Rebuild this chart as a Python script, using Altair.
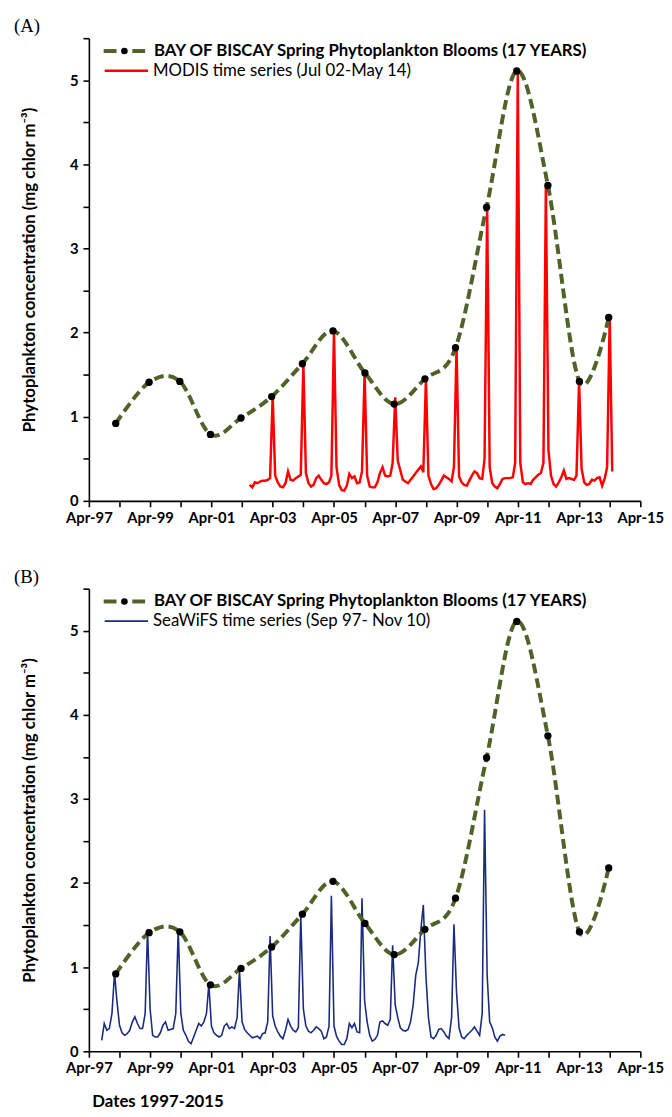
import altair as alt
import pandas as pd

FONT = "Lato"
GREEN = "#4F6228"
RED = "#FF0000"
NAVY = "#1A2B80"

# Spring bloom maxima (17 years)
bloom_dates = ["1998/02/15", "1999/03/20", "2000/03/20", "2001/03/20", "2002/03/20",
               "2003/03/20", "2004/03/20", "2005/03/20", "2006/04/05", "2007/03/20",
               "2008/03/20", "2009/03/20", "2010/03/25", "2011/03/20", "2012/03/25",
               "2013/04/05", "2014/03/20"]
bloom_values = [0.92, 1.41, 1.42, 0.79, 0.985, 1.24, 1.63, 2.02, 1.52, 1.15,
                1.45, 1.82, 3.49, 5.11, 3.75, 1.42, 2.18]

# MODIS monthly series, Jul 2002 - May 2014
modis_start = (2002, 7)
modis_values = [
    0.19, 0.16, 0.22, 0.21, 0.23, 0.24,                                # 2002
    0.24, 0.25, 0.27, 1.24, 0.30, 0.22, 0.17, 0.16, 0.21, 0.35, 0.25, 0.24,  # 2003
    0.27, 0.29, 0.31, 1.63, 0.33, 0.21, 0.17, 0.19, 0.27, 0.30, 0.25, 0.21,  # 2004
    0.20, 0.22, 0.30, 2.02, 0.40, 0.19, 0.13, 0.12, 0.18, 0.32, 0.27, 0.29,  # 2005
    0.21, 0.22, 0.35, 1.52, 0.30, 0.17, 0.16, 0.16, 0.22, 0.33, 0.40, 0.30,  # 2006
    0.29, 0.30, 0.45, 1.23, 0.48, 0.36, 0.25, 0.23, 0.21, 0.25, 0.29, 0.33,  # 2007
    0.37, 0.41, 0.34, 1.45, 0.30, 0.20, 0.14, 0.15, 0.19, 0.24, 0.30, 0.28,  # 2008
    0.26, 0.23, 0.40, 1.82, 0.29, 0.22, 0.19, 0.18, 0.24, 0.30, 0.35, 0.33,  # 2009
    0.27, 0.26, 0.50, 3.50, 0.40, 0.21, 0.17, 0.15, 0.20, 0.26, 0.27, 0.27,  # 2010
    0.27, 0.28, 0.45, 5.11, 0.45, 0.22, 0.20, 0.21, 0.20, 0.25, 0.28, 0.31,  # 2011
    0.33, 0.45, 3.75, 0.60, 0.30, 0.20, 0.17, 0.22, 0.28, 0.36, 0.26, 0.27,  # 2012
    0.26, 0.25, 0.30, 1.42, 0.38, 0.22, 0.19, 0.20, 0.25, 0.24, 0.27, 0.28,  # 2013
    0.18, 0.27, 0.40, 2.18, 0.35,                                      # 2014
]

# SeaWiFS monthly series, Sep 1997 - Nov 2010
seawifs_start = (1997, 9)
seawifs_values = [
    0.13, 0.33, 0.25, 0.27,                                            # 1997
    0.45, 0.93, 0.60, 0.31, 0.22, 0.19, 0.21, 0.25, 0.35, 0.41, 0.33, 0.27,  # 1998
    0.27, 0.45, 1.45, 0.50, 0.19, 0.17, 0.17, 0.22, 0.31, 0.35, 0.25, 0.26,  # 1999
    0.27, 0.45, 1.45, 0.45, 0.25, 0.19, 0.12, 0.09, 0.17, 0.25, 0.33, 0.30,  # 2000
    0.35, 0.45, 0.80, 0.30, 0.22, 0.19, 0.17, 0.19, 0.30, 0.33, 0.27, 0.29,  # 2001
    0.27, 0.40, 0.97, 0.35, 0.26, 0.22, 0.19, 0.16, 0.17, 0.18, 0.15, 0.21,  # 2002
    0.22, 0.35, 1.37, 0.42, 0.30, 0.23, 0.18, 0.15, 0.25, 0.38, 0.30, 0.25,  # 2003
    0.23, 0.28, 1.62, 0.50, 0.30, 0.24, 0.22, 0.25, 0.29, 0.27, 0.24, 0.15,  # 2004
    0.17, 0.30, 1.85, 0.30, 0.18, 0.12, 0.08, 0.08, 0.15, 0.33, 0.28, 0.33,  # 2005
    0.23, 0.22, 1.82, 0.60, 0.35, 0.19, 0.12, 0.14, 0.19, 0.35, 0.36, 0.33,  # 2006
    0.31, 0.38, 1.26, 0.55, 0.40, 0.28, 0.25, 0.24, 0.26, 0.35, 0.55, 0.90,  # 2007
    1.05, 1.45, 1.74, 0.90, 0.40, 0.17, 0.15, 0.19, 0.26, 0.27, 0.23, 0.18,  # 2008
    0.15, 0.40, 1.51, 0.70, 0.28, 0.17, 0.15, 0.19, 0.22, 0.25, 0.29, 0.24,  # 2009
    0.19, 0.45, 2.87, 0.90, 0.35, 0.28, 0.17, 0.12, 0.18, 0.20, 0.19,        # 2010
]

y_ticks = [0, 0.5, 1, 1.5, 2, 2.5, 3, 3.5, 4, 4.5, 5, 5.5]
x_tick_years = list(range(1997, 2016))

legend_bloom = "BAY OF BISCAY Spring Phytoplankton Blooms  (17 YEARS)"
legend_modis = "MODIS time series (Jul 02-May 14)"
legend_seawifs = "SeaWiFS time series (Sep 97- Nov 10)"
y_title = "Phytoplankton concentration (mg  chlor m\u207b\u00b3)"
x_title_b = "Dates 1997-2015"


def monthly_dates(start, n):
    y, m = start
    out = []
    for i in range(n):
        k = m - 1 + i
        out.append(f"{y + k // 12}/{k % 12 + 1:02d}/01")
    return out


bloom_df = pd.DataFrame({"date": bloom_dates, "value": bloom_values})
modis_df = pd.DataFrame({"date": monthly_dates(modis_start, len(modis_values)), "value": modis_values})
seawifs_df = pd.DataFrame({"date": monthly_dates(seawifs_start, len(seawifs_values)), "value": seawifs_values})
one = pd.DataFrame({"k": [0]})

W, H = 559, 469

x_scale = alt.Scale(domain=[alt.DateTime(year=1997, month=4, date=1),
                            alt.DateTime(year=2015, month=4, date=1)])
y_scale = alt.Scale(domain=[0, 5.5], nice=False)


def make_x(title):
    axis = alt.Axis(
        values=[alt.DateTime(year=yy, month=4, date=1) for yy in x_tick_years],
        labelExpr="(year(datum.value) - 1997) % 2 == 0 ? timeFormat(datum.value, '%b-%y') : ''",
        labelFont=FONT, labelFontSize=15, labelFontWeight="bold", labelColor="black",
        labelFlush=False, labelOverlap=False, labelPadding=4,
        domainColor="black", domainWidth=1.6, tickColor="black", tickWidth=1.6, tickSize=6,
        grid=False,
        titleFont=FONT, titleFontSize=17, titleFontWeight="bold", titleColor="black",
        titleAlign="left", titleBaseline="middle", titleX=3, titleY=51,
    )
    return alt.X("date:T", scale=x_scale, axis=axis, title=title if title else "")


y_enc = alt.Y(
    "value:Q", scale=y_scale, title=y_title,
    axis=alt.Axis(
        values=y_ticks,
        labelExpr="datum.value % 1 == 0 ? format(datum.value, 'd') : ''",
        labelFont=FONT, labelFontSize=15, labelFontWeight="bold", labelColor="black",
        labelPadding=5, labelOverlap=False, labelFlush=False,
        domainColor="black", domainWidth=1.6, tickColor="black", tickWidth=1.6, tickSize=6,
        grid=False,
        titleFont=FONT, titleFontSize=17, titleFontWeight="bold", titleColor="black",
        titleX=-60, titleY=H / 2, titleAngle=270, titleAlign="center", titleBaseline="middle",
    ),
)


def panel(series_df, color, width, label, panel_tag, x_title):
    x_enc = make_x(x_title)
    series = alt.Chart(series_df).mark_line(color=color, strokeWidth=width).encode(x=x_enc, y=y_enc)
    curve = alt.Chart(bloom_df).mark_line(
        interpolate="cardinal", color=GREEN, strokeWidth=4, strokeDash=[10, 5]
    ).encode(x=x_enc, y=y_enc)
    dots = alt.Chart(bloom_df).mark_point(
        filled=True, color="black", size=55, opacity=1
    ).encode(x=x_enc, y=y_enc)

    ly1, ly2 = 13, 33
    leg_d1 = alt.Chart(one).mark_rule(color=GREEN, strokeWidth=4).encode(
        x=alt.value(15), x2=alt.value(28), y=alt.value(ly1))
    leg_d2 = alt.Chart(one).mark_rule(color=GREEN, strokeWidth=4).encode(
        x=alt.value(44), x2=alt.value(57), y=alt.value(ly1))
    leg_dot = alt.Chart(one).mark_point(filled=True, color="black", size=45, opacity=1).encode(
        x=alt.value(36), y=alt.value(ly1))
    leg_t1 = alt.Chart(one).mark_text(
        align="left", baseline="middle", font=FONT, fontSize=17, fontWeight="bold", color="black"
    ).encode(x=alt.value(66), y=alt.value(ly1), text=alt.value(legend_bloom))
    leg_line = alt.Chart(one).mark_rule(color=color, strokeWidth=2.5 if color == RED else 1.8).encode(
        x=alt.value(16), x2=alt.value(60), y=alt.value(ly2))
    leg_t2 = alt.Chart(one).mark_text(
        align="left", baseline="middle", font=FONT, fontSize=17, color="black"
    ).encode(x=alt.value(65), y=alt.value(ly2), text=alt.value(label))

    return alt.layer(series, curve, dots, leg_d1, leg_d2, leg_dot, leg_t1, leg_line, leg_t2).properties(
        width=W, height=H,
        title=alt.TitleParams(panel_tag, anchor="start", frame="bounds", font="Liberation Serif",
                              fontSize=19, fontWeight="normal", color="black", offset=-5, dx=-7),
    )


panel_a = panel(modis_df, RED, 2.5, legend_modis, "(A)", None)
panel_b = panel(seawifs_df, NAVY, 1.6, legend_seawifs, "(B)", x_title_b)

chart = alt.vconcat(panel_a, panel_b, spacing=43).properties(
    padding={"left": 5, "top": 2, "right": 0, "bottom": 0}
).configure_view(strokeWidth=0)

chart.save("out.html", embed_options={"renderer": "svg", "actions": False})
